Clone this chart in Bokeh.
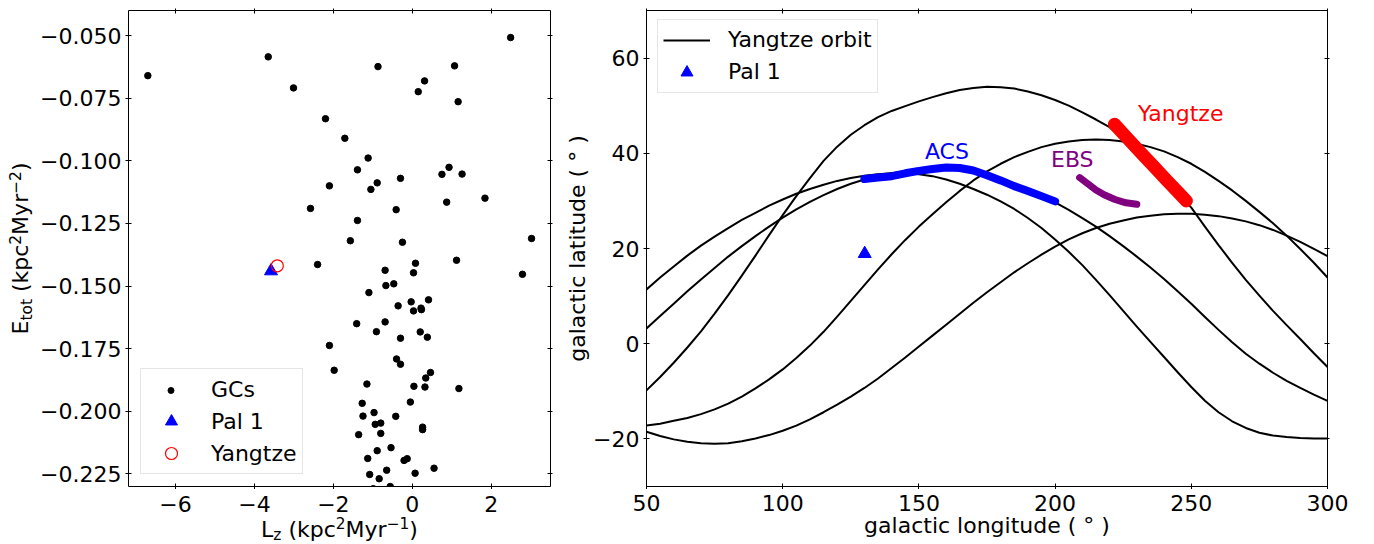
import math
from bokeh.plotting import figure
from bokeh.models import (Range1d, FixedTicker, CustomJSTickFormatter, LinearAxis,
                          Legend, LegendItem)
from bokeh.layouts import row, column
from bokeh.embed import file_html
from bokeh.resources import INLINE
from bokeh.core.properties import value

FONT = "DejaVu Sans"
F = 22
FSUB = 15.4

# ---------------- data: left panel (E_tot vs L_z) ----------------
gc_lz = [-6.70, -3.65, -0.87, 1.07, 2.49, -3.01, 0.31, 0.15, 1.16, -2.20,
         -1.71, -1.12, -1.39, 0.93, 0.75, 1.26, -0.30, -2.10, -0.89, -1.05,
         1.84, 0.87, -2.58, -0.41, -1.39, -1.57, -0.25, 3.02, -2.40, -0.69,
         0.08, 0.03, 1.12, 2.79, -0.67, -0.47, -1.10, -0.03, 0.41, -0.36,
         0.03, 0.22, 0.23, -1.41, -0.69, -0.91, 0.20, -0.30, 0.38, -2.10,
         -0.40, -0.30, -1.98, 0.46, 0.34, -1.15, 0.04, 0.32, 1.18, -0.05,
         -1.27, -1.25, -0.97, -0.42, -0.94, -0.80, 0.26, 0.26, -1.36, -0.80,
         -0.89, -0.54, -1.13, -0.21, -0.13, 0.55, -1.08, -0.65, 0.07, -0.84,
         -0.56, -0.99]
gc_e = [-0.0660, -0.0585, -0.0624, -0.0621, -0.0508, -0.0709, -0.0681, -0.0724, -0.0764, -0.0832,
        -0.0910, -0.0989, -0.1036, -0.1026, -0.1054, -0.1053, -0.1070, -0.1100, -0.1088, -0.1114,
        -0.1149, -0.1165, -0.1190, -0.1195, -0.1238, -0.1319, -0.1325, -0.1310, -0.1414, -0.1437,
        -0.1409, -0.1447, -0.1397, -0.1453, -0.1498, -0.1491, -0.1526, -0.1563, -0.1555, -0.1579,
        -0.1599, -0.1588, -0.1594, -0.1650, -0.1643, -0.1682, -0.1683, -0.1708, -0.1704, -0.1737,
        -0.1791, -0.1812, -0.1836, -0.1845, -0.1867, -0.1891, -0.1900, -0.1903, -0.1909, -0.1963,
        -0.1968, -0.2019, -0.2005, -0.2020, -0.2052, -0.2047, -0.2063, -0.2073, -0.2093, -0.2088,
        -0.2157, -0.2145, -0.2188, -0.2196, -0.2189, -0.2227, -0.2252, -0.2235, -0.2247, -0.2269,
        -0.2300, -0.2309]
pal1_lz = [-3.58]
pal1_e = [-0.1440]
yangtze_lz = [-3.42]
yangtze_e = [-0.1419]

left_xticks = [-6, -4, -2, 0, 2]
left_xtick_labels = ["−6", "−4", "−2", "0", "2"]
left_yticks = [-0.225, -0.2, -0.175, -0.15, -0.125, -0.1, -0.075, -0.05]

# ---------------- data: right panel (sky) ----------------
orbit_lon = [50, 55, 60, 65, 70, 75, 80, 85, 90, 95, 100, 105, 110, 115, 120, 125,
             130, 135, 140, 145, 150, 155, 160, 165, 170, 175, 180, 185, 190, 195,
             200, 205, 210, 215, 220, 225, 230, 235, 240, 245, 250, 255, 260, 265,
             270, 275, 280, 285, 290, 295, 300]
orbit_a = [11.4, 13.9, 16.2, 18.5, 20.6, 22.5, 24.3, 26.0, 27.5, 29.0, 30.3, 31.5, 32.5, 33.4,
           34.2, 34.8, 35.3, 35.6, 35.8, 35.8, 35.6, 35.2, 34.5, 33.6, 32.5, 31.3, 29.9, 28.3,
           26.4, 24.3, 21.9, 19.3, 16.5, 13.4, 10.2, 6.9, 3.6, 0.4, -2.8, -6.0, -9.1, -12.0,
           -14.4, -16.3, -17.7, -18.7, -19.3, -19.6, -19.8, -19.9, -19.9]
orbit_b = [3.2, 5.8, 8.4, 11.0, 13.5, 15.9, 18.3, 20.5, 22.6, 24.6, 26.5, 28.2, 29.8, 31.2,
           32.5, 33.6, 34.5, 35.2, 35.8, 36.2, 36.5, 36.7, 36.7, 36.5, 36.0, 35.3, 34.4, 33.4,
           32.2, 31.0, 29.7, 28.1, 26.4, 24.6, 22.6, 20.5, 18.3, 16.0, 13.6, 11.0, 8.4, 5.6,
           2.9, 0.3, -2.1, -4.2, -6.1, -7.8, -9.3, -10.7, -12.0]
orbit_c = [-9.8, -7.0, -4.0, -0.8, 2.6, 6.3, 10.2, 14.3, 18.5, 22.8, 27.0, 31.0, 34.8, 38.4,
           41.4, 43.9, 45.9, 47.6, 48.9, 49.9, 50.9, 51.8, 52.6, 53.3, 53.7, 54.0, 53.9, 53.6,
           53.0, 52.2, 51.2, 50.0, 48.6, 47.1, 45.5, 43.2, 40.4, 37.5, 34.6, 31.7, 28.6, 24.6,
           20.7, 17.0, 13.4, 10.1, 6.9, 3.9, 1.0, -2.0, -4.9]
orbit_d = [-17.2, -16.8, -16.2, -15.6, -14.8, -13.8, -12.6, -11.1, -9.4, -7.5, -5.4, -3.0, -0.4,
           2.5, 5.7, 9.0, 12.3, 15.6, 18.8, 21.8, 24.6, 27.2, 29.7, 32.1, 34.3, 36.2, 37.8, 39.2,
           40.3, 41.3, 42.0, 42.5, 42.8, 42.9, 42.8, 42.5, 42.0, 41.3, 40.4, 39.2, 37.8, 36.1,
           34.2, 32.2, 30.0, 27.7, 25.3, 22.7, 19.9, 17.0, 13.9]
orbit_e = [-18.5, -19.4, -20.1, -20.6, -20.9, -21.0, -20.9, -20.5, -19.9, -19.2, -18.3, -17.2,
           -15.9, -14.4, -12.8, -11.1, -9.3, -7.3, -5.1, -2.9, -0.6, 1.7, 4.0, 6.3, 8.6, 10.8,
           12.9, 15.0, 16.9, 18.7, 20.4, 21.9, 23.2, 24.3, 25.2, 25.9, 26.5, 26.9, 27.2, 27.3,
           27.3, 27.1, 26.8, 26.3, 25.7, 24.9, 23.9, 22.7, 21.4, 19.9, 18.4]

acs_lon = [130, 135, 140, 145, 150, 155, 160, 165, 170, 175, 180, 185, 190, 195, 200]
acs_lat = [34.6, 34.9, 35.2, 35.8, 36.3, 36.7, 37.0, 36.9, 36.4, 35.4, 34.3, 33.1, 32.1, 31.0, 29.9]
ebs_lon = [209, 212, 215, 218, 222, 226, 230]
ebs_lat = [34.9, 33.6, 32.3, 31.3, 30.3, 29.6, 29.3]
yz_lon = [221.8, 226, 231, 236, 241, 245, 248.2]
yz_lat = [46.1, 43.5, 40.4, 37.4, 34.3, 31.9, 30.0]
pal1_l = [130.1]
pal1_b = [18.9]

stream_names = ["ACS", "EBS", "Yangtze"]
stream_colors = ["blue", "purple", "red"]

right_xticks = [50, 100, 150, 200, 250, 300]
right_xtick_labels = ["50", "100", "150", "200", "250", "300"]
right_yticks = [-20, 0, 20, 40, 60]

# ---------------- layout constants (pixels) ----------------
FY1_W = 36
P1_LEFT, P1_FW, P1_RIGHT = 92, 422, 5
P2_LEFT, P2_FW, P2_RIGHT = 91, 681, 26
TOP, FH, BOT = 10, 476, 3
STRIP_H = 544 - (TOP + FH + BOT)


def mid(size):
    # distance from alphabetic baseline up to the centre of the DejaVu Sans font box
    return (0.928 - 0.236) / 2 * size


# ---------------- helpers ----------------
W = {'E': 0.632, 't': 0.392, 'o': 0.612, ' ': 0.318, '(': 0.390, ')': 0.390,
     'k': 0.579, 'p': 0.635, 'c': 0.550, '2': 0.636, '1': 0.636, 'M': 0.863,
     'y': 0.592, 'r': 0.411, '−': 0.838, 'L': 0.557, 'z': 0.525}


def tw(s, size):
    return sum(W[ch] for ch in s) * size


def fmt(decimals):
    return CustomJSTickFormatter(
        code="return (tick < 0 ? '−' : '') + Math.abs(tick).toFixed(%d);" % decimals)


def no_align(f):
    try:
        f.frame_align = False
    except Exception:
        pass


def style(p, xt, yt, ydec):
    xa, ya = p.below[0], p.left[0]
    xa.ticker = FixedTicker(ticks=xt, minor_ticks=[])
    ya.ticker = FixedTicker(ticks=yt, minor_ticks=[])
    xa.formatter = CustomJSTickFormatter(code="return '';")
    xa.major_label_text_font_size = "0px"
    xa.major_label_standoff = 0
    ya.formatter = fmt(ydec)
    ya.major_label_text_font = FONT
    ya.major_label_text_font_size = f"{F}px"
    ya.major_label_text_color = "black"
    ya.major_label_standoff = 4
    for ax in (xa, ya):
        ax.major_tick_in = 3
        ax.major_tick_out = 3
        ax.major_tick_line_color = "black"
        ax.minor_tick_line_color = None
        ax.axis_line_color = None
        ax.axis_label_text_font = FONT
        ax.axis_label_text_font_size = f"{F}px"
        ax.axis_label_text_font_style = "normal"
        ax.axis_label_text_color = "black"
    p.grid.visible = False
    p.outline_line_color = "black"
    p.outline_line_width = 1
    p.background_fill_color = "white"
    p.border_fill_color = "white"
    no_align(p)
    for ticks, place in ((xt, "above"), (yt, "right")):
        ax = LinearAxis(ticker=FixedTicker(ticks=ticks, minor_ticks=[]),
                        formatter=CustomJSTickFormatter(code="return '';"),
                        major_label_text_font_size="0px", major_label_standoff=0,
                        major_tick_in=3, major_tick_out=2, major_tick_line_color="black",
                        minor_tick_line_color=None, axis_line_color=None)
        p.add_layout(ax, place)


def strip(width, height, xr):
    s = figure(width=width, height=height, min_border=0, x_axis_type=None, y_axis_type=None,
               output_backend="svg", toolbar_location=None, x_range=xr,
               y_range=Range1d(0, height))
    s.outline_line_color = None
    s.grid.visible = False
    s.background_fill_color = "white"
    s.border_fill_color = "white"
    no_align(s)
    return s


def put_text(fig, xs, ys, texts, size, angle=0.0, align="left", color="black"):
    fig.text(x=xs, y=ys, text=texts, angle=angle, text_font=value(FONT),
             text_font_size=value(f"{size}px"), text_align=align,
             text_baseline="middle", text_color=color)


def rich_text(fig, pieces, c_px, base_px, vertical, to_x=lambda v: v):
    """pieces: (text, kind) with kind n / sub / sup / gap; base_px = baseline (strip px,
    measured upward for horizontal text, rightward for vertical text)."""
    total = sum(tw(s, F if k in ("n", "gap") else FSUB) for s, k in pieces)
    pos = c_px - total / 2
    for s, k in pieces:
        size = F if k in ("n", "gap") else FSUB
        if k != "gap":
            off = 0 if k == "n" else (-3.5 if k == "sub" else 8.5)
            if vertical:
                x, y = base_px - off - mid(size), pos
            else:
                x, y = pos, base_px + off + mid(size)
            put_text(fig, [to_x(x)], [y], [s], size, math.pi / 2 if vertical else 0.0)
        pos += tw(s, size)


def legend_common(leg):
    leg.label_text_font = FONT
    leg.label_text_font_size = f"{F}px"
    leg.label_text_color = "black"
    leg.margin = 0
    leg.glyph_height = 30
    leg.label_height = 30
    leg.padding = 5
    leg.spacing = 2


UNITS = [("(kpc", "n"), ("2", "sup"), ("Myr", "n")]

# ---------------- left figure ----------------
p1 = figure(frame_width=P1_FW, frame_height=FH,
            x_range=Range1d(-7.19, 3.50), y_range=Range1d(-0.23, -0.04),
            min_border_left=P1_LEFT, min_border_right=P1_RIGHT, min_border_top=TOP,
            min_border_bottom=BOT, output_backend="svg", toolbar_location=None)
style(p1, left_xticks, left_yticks, 3)

gc_r = p1.scatter(gc_lz, gc_e, marker="circle", size=6.5, color="black")
pal_r = p1.scatter(pal1_lz, pal1_e, marker="triangle", size=13, color="blue")
yz_r = p1.scatter(yangtze_lz, yangtze_e, marker="circle", size=12, fill_color=None,
                  line_color="red", line_width=1.2)
proxy = p1.scatter(x=[], y=[], marker="circle", size=1, fill_alpha=0, line_alpha=0)

legB = Legend(items=[LegendItem(label="GCs", renderers=[proxy]),
                     LegendItem(label="Pal 1", renderers=[pal_r]),
                     LegendItem(label="Yangtze", renderers=[yz_r])],
              location=(12, 12))
legend_common(legB)
legB.glyph_width = 50
legB.label_standoff = 15
legB.border_line_color = "#cccccc"
legB.background_fill_alpha = 0.8
p1.add_layout(legB)

legA = Legend(items=[LegendItem(label=" ", renderers=[gc_r])], location=(34.5, 81))
legend_common(legA)
legA.glyph_width = 15
legA.label_standoff = 0
legA.label_text_alpha = 0
legA.border_line_color = None
legA.background_fill_alpha = 0
p1.add_layout(legA)

# y-label strip left of p1 (pixel coordinates)
fy1 = strip(FY1_W, 544, Range1d(0, FY1_W))
rich_text(fy1, [("E", "n"), ("tot", "sub"), (" ", "gap")] + UNITS +
          [("−2", "sup"), (")", "n")], 544 - 248, 28, True)

# strip below p1: x tick labels + x label
s1 = P1_FW / (3.50 + 7.19)
x0_1 = -7.19 - P1_LEFT / s1
fx1 = strip(P1_LEFT + P1_FW + P1_RIGHT, STRIP_H, Range1d(x0_1, 3.50 + P1_RIGHT / s1))
put_text(fx1, left_xticks, [STRIP_H - 22 + mid(F)] * len(left_xticks), left_xtick_labels,
         F, align="center")
rich_text(fx1, [("L", "n"), ("z", "sub"), (" ", "gap")] + UNITS +
          [("−1", "sup"), (")", "n")], 339 - FY1_W, 7.5, False,
          to_x=lambda px: x0_1 + px / s1)

# ---------------- right figure ----------------
p2 = figure(frame_width=P2_FW, frame_height=FH,
            x_range=Range1d(50, 300), y_range=Range1d(-30, 70),
            min_border_left=P2_LEFT, min_border_right=P2_RIGHT, min_border_top=TOP,
            min_border_bottom=BOT, output_backend="svg", toolbar_location=None)
style(p2, right_xticks, right_yticks, 0)
p2.left[0].axis_label = "galactic latitude ( ° )"
p2.left[0].axis_label_standoff = 0

orbit_r = None
for lat in (orbit_a, orbit_b, orbit_c, orbit_d, orbit_e):
    r = p2.line(orbit_lon, lat, line_color="black", line_width=2, line_join="round")
    if orbit_r is None:
        orbit_r = r
p2.line(acs_lon, acs_lat, line_color="blue", line_width=8, line_cap="round", line_join="round")
p2.line(ebs_lon, ebs_lat, line_color="purple", line_width=7, line_cap="round", line_join="round")
p2.line(yz_lon, yz_lat, line_color="red", line_width=13, line_cap="round", line_join="round")
pal2_r = p2.scatter(pal1_l, pal1_b, marker="triangle", size=13, color="blue")

# stream labels: baseline positions in data units, shifted to the font-box centre
lat_per_px = 100.0 / FH
p2.text(x=[152.2, 198.5, 230.4],
        y=[38.7 + mid(F) * lat_per_px, 37.0 + mid(F) * lat_per_px, 46.8 + mid(F) * lat_per_px],
        text=stream_names, text_color=stream_colors, text_font=value(FONT),
        text_font_size=value(f"{F}px"), text_align="left", text_baseline="middle")

legR = Legend(items=[LegendItem(label="Yangtze orbit", renderers=[orbit_r]),
                     LegendItem(label="Pal 1", renderers=[pal2_r])],
              location=(11, 393.3))
legend_common(legR)
legR.glyph_width = 47
legR.label_standoff = 18
legR.border_line_color = "#cccccc"
legR.background_fill_alpha = 0.8
p2.add_layout(legR)

s2 = P2_FW / 250.0
x0_2 = 50 - P2_LEFT / s2
fx2 = strip(P2_LEFT + P2_FW + P2_RIGHT, STRIP_H, Range1d(x0_2, 300 + P2_RIGHT / s2))
put_text(fx2, right_xticks, [STRIP_H - 21.5 + mid(F)] * len(right_xticks), right_xtick_labels,
         F, align="center")
put_text(fx2, [x0_2 + (P2_LEFT + P2_FW / 2) / s2], [11.3 + mid(F)],
         ["galactic longitude ( ° )"], F, align="center")

layout = row(fy1, column(p1, fx1), column(p2, fx2))
open("out.html", "w").write(file_html(layout, INLINE))
